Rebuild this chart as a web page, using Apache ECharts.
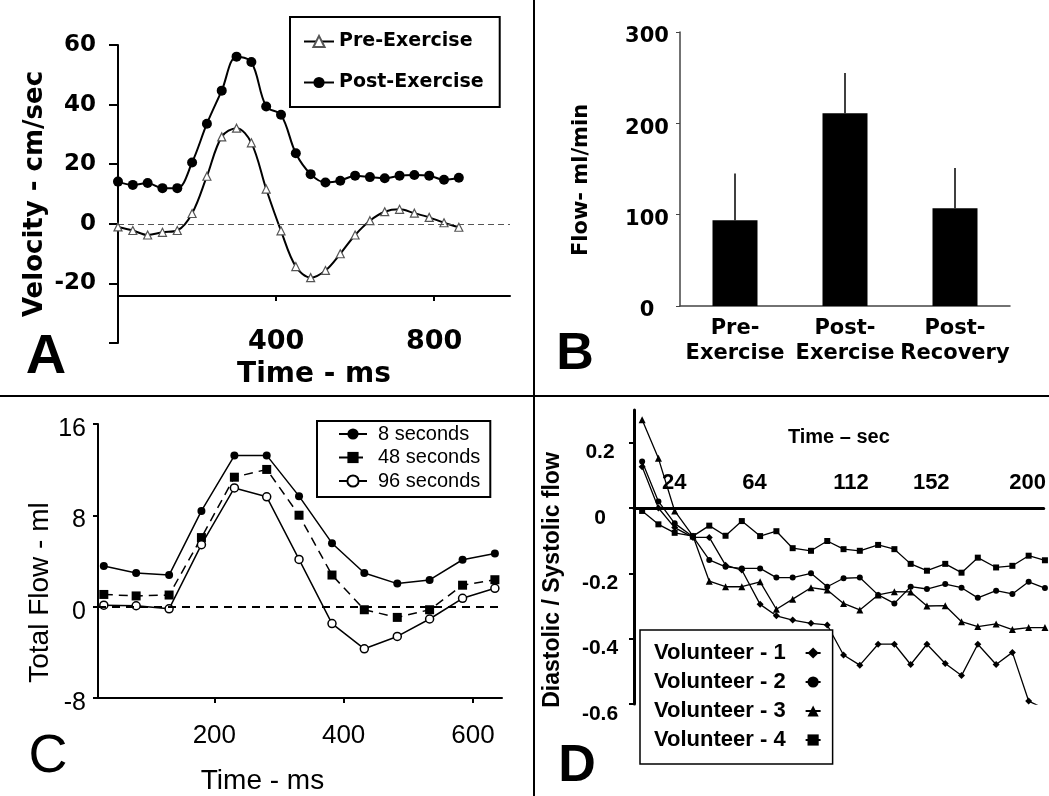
<!DOCTYPE html>
<html>
<head>
<meta charset="utf-8">
<script src="https://cdn.jsdelivr.net/npm/echarts@6/dist/echarts.min.js"></script>
<style>
  html, body { margin: 0; padding: 0; background: #fff; }
  #chart { width: 1049px; height: 796px; }
</style>
</head>
<body>
<div id="chart"></div>
<script>
// Panel A - velocity
var aTime = [0, 37.5, 75, 112.5, 150, 187.5, 225, 262.5, 300, 337.5, 375, 412.5,
             450, 487.5, 525, 562.5, 600, 637.5, 675, 712.5, 750, 787.5, 825, 862.5];
var aPre  = [-1.0, -2.2, -3.7, -2.8, -2.2, 3.5, 16.0, 29.2, 32.1, 27.2, 11.7, -2.3,
             -14.3, -18.0, -15.6, -10.0, -3.7, 1.1, 4.1, 4.9, 3.6, 2.2, 0.4, -1.1];
var aPost = [14.2, 13.1, 13.7, 12.0, 12.0, 20.6, 33.6, 44.7, 56.1, 54.3, 39.4, 36.6,
             23.7, 16.7, 13.9, 14.5, 16.2, 15.7, 15.3, 16.2, 16.4, 16.2, 14.8, 15.5];
var aXTicks = [400, 800];

// Panel B - flow bars
var bCats   = ['Pre-\nExercise', 'Post-\nExercise', 'Post-\nRecovery'];
var bFlow   = [94, 211, 107];
var bErrTop = [145, 255, 151];

// Panel C - total flow
var cTime = [29, 79, 130, 180, 231, 281, 331, 382, 432, 483, 533, 584, 634];
var c8    = [3.57, 2.95, 2.77, 8.39, 13.23, 13.25, 9.68, 5.56, 2.95, 2.02, 2.34, 4.11, 4.65];
var c48   = [1.07, 0.94, 1.02, 6.05, 11.34, 12.02, 8.01, 2.77, -0.27, -0.94, -0.27, 1.88, 2.36];
var c96   = [0.13, 0.08, -0.19, 5.43, 10.4, 9.62, 4.14, -1.48, -3.69, -2.61, -1.08, 0.73, 1.61];
var cXTicks = [200, 400, 600];

// Panel D - diastolic / systolic ratio
var dTime = [8, 16, 24, 33, 41, 49, 57, 66, 74, 82, 91, 99, 107, 115, 124, 132, 140, 148,
             157, 165, 173, 182, 190, 198, 206];
var dV1 = [0.126, 0.0, -0.06, -0.09, -0.09, -0.175, -0.19, -0.295, -0.33, -0.343, -0.353, -0.358,
           -0.45, -0.481, -0.417, -0.417, -0.479, -0.417, -0.476, -0.513, -0.417, -0.479, -0.442, -0.591, -0.615];
var dV2 = [0.142, 0.02, -0.047, -0.088, -0.159, -0.18, -0.185, -0.185, -0.213, -0.213, -0.2, -0.241,
           -0.215, -0.213, -0.266, -0.292, -0.241, -0.248, -0.233, -0.244, -0.275, -0.253, -0.263, -0.226, -0.245];
var dV3 = [0.27, 0.152, -0.009, -0.086, -0.224, -0.241, -0.241, -0.226, -0.31, -0.279, -0.244, -0.251,
           -0.292, -0.312, -0.266, -0.256, -0.257, -0.3, -0.299, -0.348, -0.363, -0.355, -0.372, -0.366, -0.366];
var dV4 = [-0.009, -0.05, -0.076, -0.086, -0.054, -0.085, -0.04, -0.086, -0.071, -0.123, -0.131, -0.101,
           -0.126, -0.131, -0.113, -0.126, -0.171, -0.192, -0.171, -0.198, -0.152, -0.182, -0.177, -0.146, -0.16];
var dXTicks = [24, 64, 112, 152, 200];
var dYTicks = [-0.6, -0.4, -0.2, 0, 0.2];


function pairs(xs, ys) {
    return xs.map(function (x, i) { return [x, ys[i]]; });
}

var WIDE = 'DejaVu Sans';
var ARIAL = 'Liberation Sans';
var black2 = { color: '#000', width: 2 };

function txt(family, size, weight) {
    return { fontFamily: family, fontSize: size, fontWeight: weight || 'bold', color: '#000' };
}

var chart = echarts.init(document.getElementById('chart'), null, { renderer: 'canvas' });

var option = {
    animation: false,
    backgroundColor: '#fff',
    textStyle: { fontFamily: ARIAL, color: '#000' },

    grid: [
        { left: 118, top: 45, width: 392, height: 251 },   // A data
        { left: 118, top: 45, width: 392, height: 298 },   // A y axis
        { left: 680, top: 32, width: 330, height: 274 },   // B
        { left: 98,  top: 424, width: 404, height: 289 },  // C
        { left: 634, top: 410, width: 426, height: 294 },  // D data
        { left: 634, top: 508, width: 426, height: 196 }   // D time axis (at zero)
    ],

    xAxis: [
        {   // A
            gridIndex: 0, type: 'value', min: 0, max: 992,
            axisLine: { onZero: false, lineStyle: black2 },
            axisTick: { customValues: aXTicks, length: 5, lineStyle: black2 },
            axisLabel: Object.assign({ customValues: aXTicks, margin: 32 }, txt(WIDE, 27)),
            splitLine: { show: false },
            name: 'Time - ms', nameLocation: 'middle', nameGap: 65,
            nameTextStyle: txt(WIDE, 28)
        },
        { gridIndex: 1, type: 'value', min: 0, max: 992, show: false },
        {   // B
            gridIndex: 2, type: 'category', data: bCats,
            axisLine: { lineStyle: { color: '#444', width: 1.5 } },
            axisTick: { length: 4, lineStyle: { color: '#444' } },
            axisLabel: Object.assign({ interval: 0, margin: 10, lineHeight: 25 }, txt(WIDE, 21))
        },
        {   // C
            gridIndex: 3, type: 'value', min: 20, max: 645,
            axisLine: { onZero: false, lineStyle: black2 },
            axisTick: { customValues: cXTicks, length: 5, lineStyle: black2 },
            axisLabel: Object.assign({ customValues: cXTicks, margin: 25 }, txt(ARIAL, 26, 'normal')),
            splitLine: { show: false },
            name: 'Time - ms', nameLocation: 'middle', nameGap: 69,
            nameTextStyle: Object.assign({ padding: [0, 75, 0, 0] }, txt(ARIAL, 28, 'normal'))
        },
        { gridIndex: 4, type: 'value', min: 4, max: 208, show: false },
        {   // D time axis drawn along the zero line
            gridIndex: 5, type: 'value', min: 4, max: 208, position: 'top',
            axisLine: { onZero: false, lineStyle: { color: '#000', width: 3 } },
            axisTick: { show: false },
            axisLabel: Object.assign({ customValues: dXTicks, margin: 14 }, txt(ARIAL, 22)),
            splitLine: { show: false },
            name: 'Time \u2013 sec', nameLocation: 'middle', nameGap: 61,
            nameTextStyle: txt(ARIAL, 20)
        }
    ],

    yAxis: [
        { gridIndex: 0, type: 'value', min: -24.16, max: 60, show: false },
        {   // A visible axis
            gridIndex: 1, type: 'value', min: -40, max: 60, interval: 20,
            axisLine: { show: true, onZero: false, lineStyle: black2 },
            axisTick: { show: true, length: 9, lineStyle: black2 },
            axisLabel: Object.assign({
                margin: 22,
                formatter: function (v) { return v === -40 ? '' : String(v); }
            }, txt(WIDE, 23)),
            splitLine: { show: false },
            name: 'Velocity - cm/sec', nameLocation: 'middle', nameRotate: 90, nameGap: 70,
            nameTextStyle: txt(WIDE, 26)
        },
        {   // B
            gridIndex: 2, type: 'value', min: 0, max: 300, interval: 100,
            axisLine: { show: true, onZero: false, lineStyle: { color: '#444', width: 1.5 } },
            axisTick: { show: true, length: 4, lineStyle: { color: '#444' } },
            axisLabel: Object.assign({ align: 'center', verticalAlign: 'top', lineHeight: 10, margin: 33 }, txt(WIDE, 21)),
            splitLine: { show: false },
            name: 'Flow- ml/min', nameLocation: 'middle', nameRotate: 90, nameGap: 88,
            nameTextStyle: Object.assign({ padding: [0, 22, 0, 0] }, txt(WIDE, 21))
        },
        {   // C
            gridIndex: 3, type: 'value', min: -8, max: 16, interval: 8,
            axisLine: { show: true, onZero: false, lineStyle: black2 },
            axisTick: { show: true, length: 5, lineStyle: black2 },
            axisLabel: Object.assign({ margin: 12, verticalAlign: 'top', lineHeight: 10 }, txt(ARIAL, 25, 'normal')),
            splitLine: { show: false },
            name: 'Total Flow - ml', nameLocation: 'middle', nameRotate: 90, nameGap: 41,
            nameTextStyle: Object.assign({ padding: [0, 63, 0, 0] }, txt(ARIAL, 28, 'normal'))
        },
        {   // D
            gridIndex: 4, type: 'value', min: -0.6, max: 0.3,
            axisLine: { show: true, onZero: false, lineStyle: { color: '#000', width: 3 } },
            axisTick: { show: true, customValues: dYTicks, length: 5, lineStyle: black2 },
            axisLabel: Object.assign({
                customValues: dYTicks, align: 'center', verticalAlign: 'top', lineHeight: 20, margin: 34,
                formatter: function (v) { return String(Math.round(v * 10) / 10); }
            }, txt(ARIAL, 21)),
            splitLine: { show: false },
            name: 'Diastolic / Systolic flow', nameLocation: 'middle', nameRotate: 90, nameGap: 70,
            nameTextStyle: Object.assign({ padding: [0, 46, 0, 0] }, txt(ARIAL, 23))
        },
        { gridIndex: 5, type: 'value', min: 0, max: 1, show: false }
    ],

    legend: [
        {
            data: ['Pre-Exercise', 'Post-Exercise'],
            orient: 'vertical', left: 290, top: 17,
            padding: [15, 16, 15, 13], itemGap: 22, itemWidth: 30, itemHeight: 14,
            borderColor: '#000', borderWidth: 2,
            textStyle: txt(WIDE, 19)
        },
        {
            data: ['8 seconds', '48 seconds', '96 seconds'],
            orient: 'vertical', left: 317, top: 421,
            padding: [3, 10, 6, 21], itemGap: 3.5, itemWidth: 28, itemHeight: 14,
            borderColor: '#000', borderWidth: 2,
            textStyle: Object.assign({ padding: [0, 0, 0, 6] }, txt(ARIAL, 20, 'normal'))
        },
        {
            data: ['Volunteer - 1', 'Volunteer - 2', 'Volunteer - 3', 'Volunteer - 4'],
            orient: 'vertical', left: 640, top: 630, align: 'right',
            padding: [12, 11, 13, 14], itemGap: 7, itemWidth: 15, itemHeight: 14,
            borderColor: '#000', borderWidth: 1.5, backgroundColor: '#fff',
            textStyle: Object.assign({ padding: [0, 15, 0, 0] }, txt(ARIAL, 22))
        }
    ],

    series: [
        // A
        {
            type: 'line', name: 'Pre-Exercise', xAxisIndex: 0, yAxisIndex: 0,
            data: pairs(aTime, aPre), smooth: 0.35,
            symbol: 'triangle', symbolSize: 8,
            itemStyle: { color: '#fff', borderColor: '#555', borderWidth: 1.2 },
            lineStyle: { color: '#000', width: 2 },
            markLine: {
                silent: true, symbol: 'none', label: { show: false },
                lineStyle: { color: '#555', type: [6, 4], width: 1 },
                data: [{ yAxis: 0 }]
            },
            z: 3
        },
        {
            type: 'line', name: 'Post-Exercise', xAxisIndex: 0, yAxisIndex: 0,
            data: pairs(aTime, aPost), smooth: 0.35,
            symbol: 'circle', symbolSize: 10,
            itemStyle: { color: '#000' },
            lineStyle: { color: '#000', width: 2 },
            z: 3
        },
        // B
        {
            type: 'bar', name: 'Flow', xAxisIndex: 2, yAxisIndex: 2,
            data: bFlow, barWidth: 45, itemStyle: { color: '#000' }
        },
        {
            type: 'custom', name: 'Flow error', xAxisIndex: 2, yAxisIndex: 2,
            data: bFlow.map(function (v, i) { return [i, v, bErrTop[i]]; }),
            encode: { x: 0, y: [1, 2] },
            renderItem: function (params, api) {
                var p0 = api.coord([api.value(0), api.value(1)]);
                var p1 = api.coord([api.value(0), api.value(2)]);
                return {
                    type: 'line',
                    shape: { x1: p0[0], y1: p0[1], x2: p1[0], y2: p1[1] },
                    style: { stroke: '#000', lineWidth: 1.5 }
                };
            },
            z: 3
        },
        // C
        {
            type: 'line', name: '8 seconds', xAxisIndex: 3, yAxisIndex: 3,
            data: pairs(cTime, c8), symbol: 'circle', symbolSize: 8,
            itemStyle: { color: '#000' }, lineStyle: { color: '#000', width: 1.5 },
            markLine: {
                silent: true, symbol: 'none', label: { show: false },
                lineStyle: { color: '#000', type: [8, 6], width: 2 },
                data: [{ yAxis: 0 }]
            }
        },
        {
            type: 'line', name: '48 seconds', xAxisIndex: 3, yAxisIndex: 3,
            data: pairs(cTime, c48), symbol: 'rect', symbolSize: 9,
            itemStyle: { color: '#000' }, lineStyle: { color: '#000', width: 1.5, type: [9, 6] }
        },
        {
            type: 'line', name: '96 seconds', xAxisIndex: 3, yAxisIndex: 3,
            data: pairs(cTime, c96), symbol: 'circle', symbolSize: 8,
            itemStyle: { color: '#fff', borderColor: '#000', borderWidth: 1.5 },
            lineStyle: { color: '#000', width: 1.5 }
        },
        // D
        {
            type: 'line', name: 'Volunteer - 1', xAxisIndex: 4, yAxisIndex: 4,
            data: pairs(dTime, dV1), symbol: 'diamond', symbolSize: 7,
            itemStyle: { color: '#000' }, lineStyle: { color: '#000', width: 1.3 }
        },
        {
            type: 'line', name: 'Volunteer - 2', xAxisIndex: 4, yAxisIndex: 4,
            data: pairs(dTime, dV2), symbol: 'circle', symbolSize: 6,
            itemStyle: { color: '#000' }, lineStyle: { color: '#000', width: 1.3 }
        },
        {
            type: 'line', name: 'Volunteer - 3', xAxisIndex: 4, yAxisIndex: 4,
            data: pairs(dTime, dV3), symbol: 'triangle', symbolSize: 7,
            itemStyle: { color: '#000' }, lineStyle: { color: '#000', width: 1.3 }
        },
        {
            type: 'line', name: 'Volunteer - 4', xAxisIndex: 4, yAxisIndex: 4,
            data: pairs(dTime, dV4), symbol: 'rect', symbolSize: 6,
            itemStyle: { color: '#000' }, lineStyle: { color: '#000', width: 1.3 }
        }
    ],

    graphic: [
        { type: 'line', shape: { x1: 534, y1: 0, x2: 534, y2: 796 }, style: { stroke: '#000', lineWidth: 2 } },
        { type: 'line', shape: { x1: 0, y1: 396, x2: 1049, y2: 396 }, style: { stroke: '#000', lineWidth: 2 } },
        { type: 'text', x: 46, y: 358, style: { text: 'A', align: 'center', verticalAlign: 'middle', font: 'bold 56px "Liberation Sans"', fill: '#000' } },
        { type: 'text', x: 575, y: 355, style: { text: 'B', align: 'center', verticalAlign: 'middle', font: 'bold 52px "Liberation Sans"', fill: '#000' } },
        { type: 'text', x: 48, y: 757, style: { text: 'C', align: 'center', verticalAlign: 'middle', font: '54px "Liberation Sans"', fill: '#000' } },
        { type: 'text', x: 577, y: 767, style: { text: 'D', align: 'center', verticalAlign: 'middle', font: 'bold 52px "Liberation Sans"', fill: '#000' } }
    ]
};

chart.setOption(option);
</script>
</body>
</html>
